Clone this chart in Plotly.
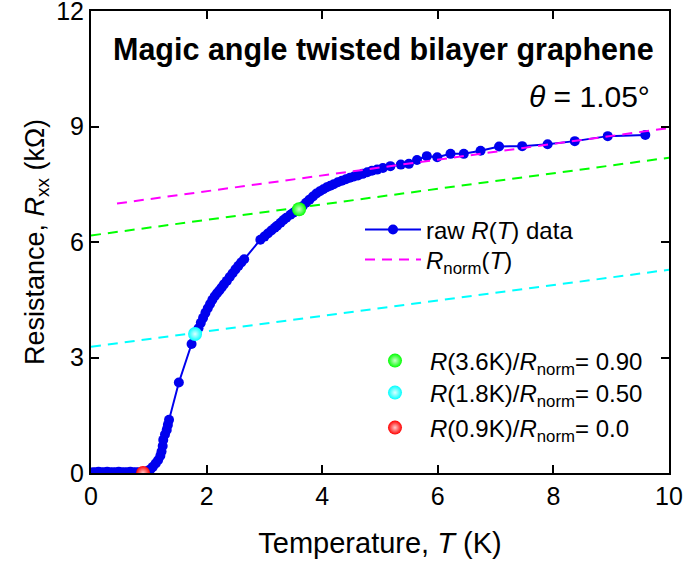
import plotly.graph_objects as go

# raw R(T) data (T in K, R in kOhm)
T_raw = [0.03, 0.08, 0.13, 0.18, 0.23, 0.28, 0.33, 0.38, 0.43, 0.48, 0.53, 0.58,
         0.63, 0.68, 0.73, 0.78, 0.83, 0.88, 0.93, 0.98, 1.03, 1.07, 1.12, 1.16,
         1.20, 1.22, 1.24, 1.25, 1.28, 1.31, 1.33, 1.35, 1.52, 1.74, 1.82, 1.86,
         1.90, 1.94, 1.98, 2.02, 2.06, 2.10, 2.14, 2.18, 2.22, 2.26, 2.30, 2.35,
         2.40, 2.45, 2.50, 2.55, 2.60, 2.65, 2.93, 3.00, 3.06, 3.12, 3.18, 3.22,
         3.28, 3.33, 3.38, 3.45, 3.50, 3.55, 3.60, 3.66, 3.72, 3.78, 3.84, 3.90,
         3.96, 4.02, 4.08, 4.14, 4.20, 4.27, 4.34, 4.41, 4.48, 4.55, 4.62, 4.70,
         4.78, 4.86, 4.95, 5.05, 5.18, 5.36, 5.50, 5.64, 5.81, 5.99, 6.22, 6.45,
         6.74, 7.06, 7.46, 7.90, 8.37, 8.94, 9.59]
R_raw = [0.02, 0.02, 0.03, 0.02, 0.02, 0.03, 0.02, 0.02, 0.02, 0.03, 0.02, 0.02,
         0.02, 0.03, 0.02, 0.02, 0.02, 0.02, 0.03, 0.05, 0.10, 0.16, 0.25, 0.33,
         0.45, 0.56, 0.70, 0.86, 1.00, 1.12, 1.25, 1.38, 2.35, 3.35, 3.62, 3.76,
         3.90, 4.03, 4.16, 4.28, 4.39, 4.50, 4.59, 4.67, 4.74, 4.82, 4.90, 4.99,
         5.09, 5.19, 5.29, 5.38, 5.47, 5.55, 6.06, 6.14, 6.22, 6.30, 6.37, 6.42,
         6.50, 6.57, 6.63, 6.71, 6.76, 6.81, 6.85, 6.93, 7.02, 7.10, 7.18, 7.26,
         7.32, 7.37, 7.42, 7.46, 7.50, 7.55, 7.59, 7.63, 7.67, 7.70, 7.73, 7.77,
         7.81, 7.85, 7.88, 7.92, 7.97, 8.01, 8.03, 8.13, 8.23, 8.20, 8.29, 8.29,
         8.37, 8.48, 8.49, 8.54, 8.62, 8.75, 8.78]

# normal-state fit line and fractions of it
T_norm = [0.45, 10.0]
R_norm = [7.00, 8.96]
T_frac = [0.0, 10.0]
R_90 = [6.17, 8.19]
R_50 = [3.28, 5.28]

# highlighted points
T_marks = [3.6, 1.8, 0.9]
R_marks = [6.85, 3.61, 0.0]
mark_colors = ["#00FF00", "#00FFFF", "#FF0000"]
mark_centers = ["#CCFFCC", "#DDFFFF", "#FFCCCC"]
mark_labels = ["<i>R</i>(3.6K)/<i>R</i><sub>norm</sub>= 0.90",
               "<i>R</i>(1.8K)/<i>R</i><sub>norm</sub>= 0.50",
               "<i>R</i>(0.9K)/<i>R</i><sub>norm</sub>= 0.0"]

FONT = "Liberation Sans, Arial, sans-serif"
DASH = "10px,7px"

fig = go.Figure()
fig.add_trace(go.Scatter(
    x=T_raw, y=R_raw, mode="lines+markers", name="raw <i>R</i>(<i>T</i>) data",
    line=dict(color="#0000EE", width=2), marker=dict(color="#0000EE", size=10),
    legend="legend"))
fig.add_trace(go.Scatter(
    x=T_norm, y=R_norm, mode="lines", name="<i>R</i><sub>norm</sub>(<i>T</i>)",
    line=dict(color="#FF00FF", width=2, dash=DASH), legend="legend2"))
fig.add_trace(go.Scatter(
    x=T_frac, y=R_90, mode="lines", showlegend=False,
    line=dict(color="#00FF00", width=2, dash=DASH)))
fig.add_trace(go.Scatter(
    x=T_frac, y=R_50, mode="lines", showlegend=False,
    line=dict(color="#00FFFF", width=2, dash=DASH)))
mark_legends = ["legend3", "legend4", "legend5"]
for t, r, c, cc, lab, lg in zip(T_marks, R_marks, mark_colors, mark_centers,
                                mark_labels, mark_legends):
    fig.add_trace(go.Scatter(
        x=[t], y=[r], mode="markers", name=lab, legend=lg,
        marker=dict(color=c, size=14, gradient=dict(type="radial", color=cc),
                    line=dict(width=0))))

axis_common = dict(showline=True, linecolor="black", linewidth=2, mirror="ticks",
                   ticks="inside", ticklen=8, tickwidth=1.5, tickcolor="black",
                   showgrid=False, zeroline=False, automargin=False,
                   ticklabeloverflow="allow",
                   tickfont=dict(family=FONT, size=25, color="black"))


def leg(x, y, w):
    return dict(x=x, y=y, xanchor="left", yanchor="middle",
                bgcolor="rgba(0,0,0,0)", font=dict(size=24), itemwidth=w)


fig.update_layout(
    template="none",
    width=686, height=565,
    margin=dict(l=91, r=17, t=11, b=92),
    plot_bgcolor="white", paper_bgcolor="white",
    font=dict(family=FONT, color="black"),
    xaxis=dict(range=[0, 10], tickvals=[0, 2, 4, 6, 8, 10],
               title=dict(text="Temperature, <i>T</i> (K)", font=dict(size=29), standoff=24),
               **axis_common),
    yaxis=dict(range=[0, 12], tickvals=[0, 3, 6, 9, 12],
               title=dict(text="Resistance, <i>R</i><sub>xx</sub> (kΩ)", font=dict(size=27), standoff=4),
               **axis_common),
    legend=leg(0.4654, 0.526, 56),
    legend2=leg(0.4654, 0.461, 56),
    legend3=leg(0.4654, 0.2424, 60),
    legend4=leg(0.4654, 0.1732, 60),
    legend5=leg(0.4654, 0.0974, 60),
    showlegend=True,
)

fig.add_annotation(xref="paper", yref="paper", x=0.978, y=0.916,
                   xanchor="right", yanchor="middle", showarrow=False,
                   text="<b>Magic angle twisted bilayer graphene</b>",
                   font=dict(size=30.5, family=FONT))
fig.add_annotation(xref="paper", yref="paper", x=0.97, y=0.814,
                   xanchor="right", yanchor="middle", showarrow=False,
                   text="<i>θ</i> = 1.05°", font=dict(size=30, family=FONT))

fig.write_html("out.html")
